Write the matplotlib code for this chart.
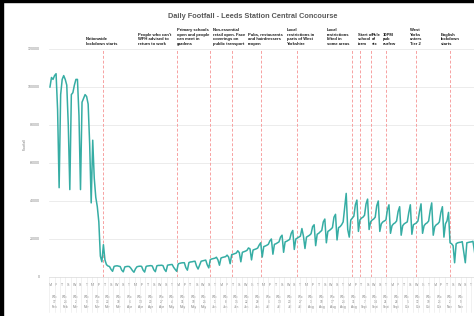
import pandas as pd
import matplotlib
matplotlib.use("Agg")
import matplotlib.pyplot as plt
import matplotlib.transforms as mtransforms
from matplotlib.patches import Rectangle

plt.rcParams['font.family'] = ['Liberation Sans', 'DejaVu Sans']

start = pd.Timestamp("2020-02-17")

# daily footfall, one row per week (Mon..Sun)
footfall = [
    100000, 105000, 104000, 106000, 107000, 88000, 47000,
    96000, 104000, 106000, 104000, 101000, 80000, 46000,
    96000, 97000, 101000, 104000, 104000, 85000, 46000,
    92000, 94000, 96000, 95000, 91000, 70000, 39000,
    72000, 52000, 42000, 37000, 29000, 11000, 8000,
    17000, 9000, 6500, 5800, 5500, 4000, 3000,
    5600, 5800, 5900, 5700, 5500, 3600, 2700,
    5300, 5500, 5600, 5500, 4600, 3400, 2500,
    4300, 5400, 5600, 5700, 5600, 3600, 2600,
    5600, 5800, 5900, 6000, 5800, 3800, 2800,
    5900, 6100, 6100, 6200, 6000, 4000, 2900,
    6200, 6400, 6500, 6600, 5100, 4000, 3000,
    6900, 7200, 7400, 7500, 7500, 4900, 3600,
    7600, 7900, 8000, 8200, 8300, 5700, 4200,
    6200, 8300, 8500, 8700, 8900, 6400, 4800,
    9200, 9500, 9700, 9900, 10400, 9000, 6200,
    10000, 10300, 10500, 10700, 11500, 10500, 7000,
    11800, 12000, 12300, 12600, 13800, 12800, 8000,
    13000, 13300, 13600, 14000, 15300, 14800, 9000,
    14200, 14500, 14800, 15200, 16800, 18000, 10500,
    16000, 16300, 16700, 17200, 19000, 20000, 12000,
    17200, 17500, 18000, 18500, 21000, 22000, 13000,
    18500, 18800, 19300, 19800, 23000, 24500, 14500,
    20000, 20500, 21000, 21500, 25500, 21500, 15000,
    21000, 21500, 22000, 22800, 26500, 27500, 16500,
    22500, 23000, 23800, 24500, 29000, 30500, 18000,
    24000, 24500, 25200, 26000, 31500, 33000, 19500,
    26000, 26500, 27500, 29000, 36500, 44000, 25000,
    21000, 30000, 31000, 32000, 38000, 40500, 24000,
    30000, 31000, 31500, 32500, 38500, 41000, 25000,
    29000, 30000, 30500, 31500, 37500, 40000, 24000,
    28000, 29000, 29500, 30000, 35500, 38000, 23000,
    27000, 28000, 28500, 29500, 34500, 37000, 22000,
    27000, 28000, 28500, 29000, 34000, 38000, 22500,
    27500, 28000, 28500, 29500, 34500, 38500, 23000,
    27000, 28000, 28500, 29500, 35000, 39000, 22000,
    26500, 27500, 28000, 29000, 34000, 37000, 21000,
    28000, 29500, 34000, 18000, 17500, 16500, 7500,
    17500, 18000, 18200, 18300, 18600, 13000, 7500,
    18000, 18200, 18400, 18500, 18800, 13500, 8000,
]

event_dates = ["2020-03-23", "2020-05-10", "2020-06-01", "2020-06-15",
               "2020-07-04", "2020-07-28", "2020-09-02", "2020-09-07",
               "2020-09-14", "2020-09-24", "2020-10-14", "2020-11-05"]
event_labels = [
    "Nationwide\nlockdown starts",
    "People who can't\nWFH advised to\nreturn to work",
    "Primary schools\nopen and people\ncan meet in\ngardens",
    "Non-essential\nretail open. Face\ncoverings on\npublic transport",
    "Pubs, restaurants\nand hairdressers\nreopen",
    "Local\nrestrictions in\nparts of West\nYorkshire",
    "Local\nrestrictions\nlifted in\nsome areas",
    "Start of\nschool\nterm",
    "Rule\nof\nsix",
    "10PM\npub\ncurfew",
    "West\nYorks\nenters\nTier 2",
    "English\nlockdown\nstarts",
]
# left edge of each note, in days from start
label_x = [23.6, 57.6, 83.2, 106.7, 129.7, 155.2, 181.4, 201.7, 210.9, 218.1, 235.8, 256.1]

day_letters = ["M", "F", "T", "S", "W", "S", "T"]
month_names = {2: "Feb", 3: "Mar", 4: "Apr", 5: "May", 6: "Jun", 7: "Jul",
               8: "Aug", 9: "Sept", 10: "Oct", 11: "Nov"}

days = list(range(len(footfall)))
event_days = [(pd.Timestamp(d) - start).days for d in event_dates]

W, H = 474, 316
px_day = 1.527
fig = plt.figure(figsize=(W / 100, H / 100), dpi=100)
ax = fig.add_axes([49.2 / W, 39 / H, 300.5 * px_day / W, 228 / H])
ax.set_xlim(-0.5, 300)
ax.set_ylim(0, 120000)

gray = "#7F7F7F"
ax.set_yticks(range(0, 120001, 20000))
ax.grid(axis="y", color="#E4E4E4", lw=0.5)
ax.set_axisbelow(True)
for s in ["top", "right", "left"]:
    ax.spines[s].set_visible(False)
ax.spines["bottom"].set_color("#D9D9D9")
ax.spines["bottom"].set_linewidth(0.5)
ax.tick_params(axis="y", length=0, labelsize=2.6, labelcolor=gray, pad=6.5)

for d in event_days:
    ax.axvline(d, color="#F7A1A1", lw=0.7, ls=(0, (3, 2)), zorder=1)

ax.plot(days, footfall, color="#36ADA4", lw=1.1, zorder=3)

# two-level category axis: day letters and week labels
ax.xaxis.remove_overlapping_locs = False
letter_pos = list(range(0, 277, 4))
ax.set_xticks(letter_pos)
ax.set_xticklabels([day_letters[i % 7] for i in range(len(letter_pos))])
n_weeks = 39
week_pos = [7 * k + 3 for k in range(n_weeks)]
week_lab = []
for k in range(n_weeks):
    d = start + pd.Timedelta(days=7 * k)
    week_lab.append(f"W/c\n{d.day}\n{month_names[d.month]}")
ax.set_xticks(week_pos, minor=True)
ax.set_xticklabels(week_lab, minor=True, linespacing=1.25)
ax.tick_params(axis="x", which="major", length=0, labelsize=2.6, labelcolor=gray, pad=4)
ax.tick_params(axis="x", which="minor", length=0, labelsize=2.3, labelcolor=gray, pad=13)

trans = mtransforms.blended_transform_factory(ax.transData, ax.transAxes)
for k in range(43):
    for x in (7 * k - 0.5, 7 * k + 3):
        ax.plot([x, x], [0, -0.155], transform=trans, clip_on=False,
                color="#E6E6E6", lw=0.4)

for x, txt in zip(label_x, event_labels):
    ax.text(x, 1.015, txt, transform=trans, ha="left", va="bottom",
            fontsize=3.0, fontweight="bold", color="#1A1A1A", linespacing=1.15)

fig.text(253 / W, 1 - 16 / H, "Daily Footfall - Leeds Station Central Concourse",
         ha="center", va="center", fontsize=5.3, fontweight="bold", color="#595959")
fig.text(25 / W, 1 - 144 / H, "Footfall", rotation=90, ha="center", va="center",
         fontsize=2.6, color=gray)

# dark frame edge from the original screenshot
fig.add_artist(Rectangle((0, 0), 3 / W, 1, transform=fig.transFigure, color="black"))
fig.add_artist(Rectangle((0, 1 - 2 / H), 1, 2 / H, transform=fig.transFigure, color="black"))

fig.savefig("out.png", dpi=100)
